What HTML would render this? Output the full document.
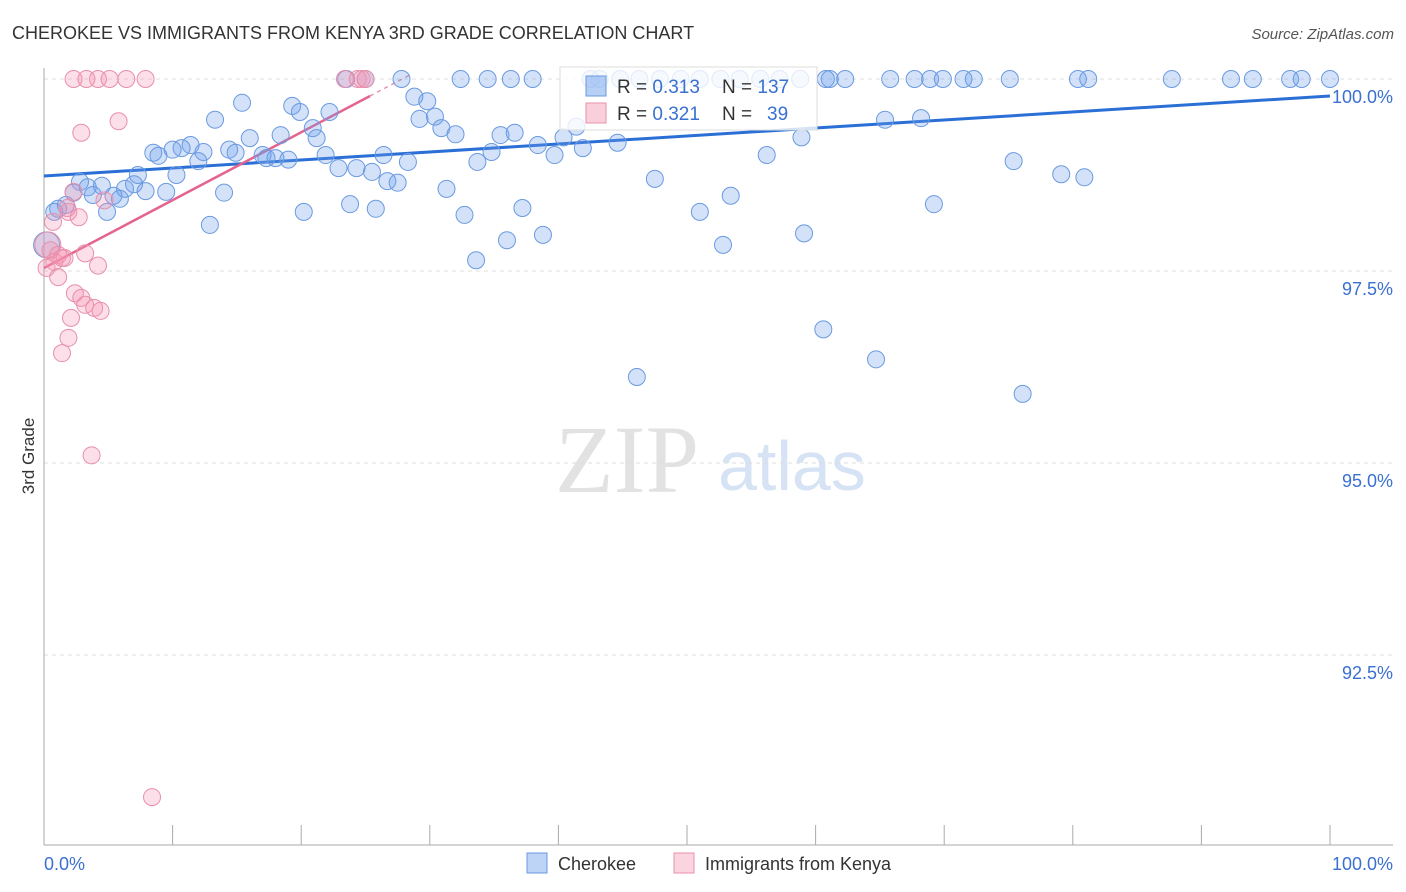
<!DOCTYPE html>
<html><head><meta charset="utf-8"><style>
body{margin:0;background:#fff;font-family:"Liberation Sans",sans-serif}
svg{display:block}
</style></head><body>
<svg id="chart" width="1406" height="892" xmlns="http://www.w3.org/2000/svg">
<text x="12" y="39" font-size="18" fill="#333">CHEROKEE VS IMMIGRANTS FROM KENYA 3RD GRADE CORRELATION CHART</text>
<text x="1394" y="39" font-size="15" fill="#555" font-style="italic" text-anchor="end">Source: ZipAtlas.com</text>
<text x="34" y="456" font-size="17" fill="#333" transform="rotate(-90 34 456)" text-anchor="middle">3rd Grade</text>
<g>
<text x="555" y="492" font-family="Liberation Serif,serif" font-size="96" fill="#e2e2e2">ZIP</text>
<text x="718" y="490" font-size="70" fill="#d6e3f5">atlas</text>
</g>
<g id="grid"></g>
<g id="axes"></g>
<g id="trend"></g>
<g id="pts"></g>
<g>
<rect x="560" y="67" width="257" height="63" fill="rgba(255,255,255,0.8)" stroke="#ddd"/>
<rect x="586" y="76" width="20" height="20" fill="rgba(110,160,235,0.5)" stroke="#6a9ae0"/>
<rect x="586" y="103" width="20" height="20" fill="rgba(245,160,185,0.5)" stroke="#e890ab"/>
<text x="617" y="93" font-size="19" fill="#333">R = <tspan fill="#3a70d0">0.313</tspan><tspan x="722">N = </tspan><tspan fill="#3a70d0">137</tspan></text>
<text x="617" y="120" font-size="19" fill="#333">R = <tspan fill="#3a70d0">0.321</tspan><tspan x="722">N = </tspan><tspan x="767" fill="#3a70d0">39</tspan></text>
</g>
<g>
<rect x="527" y="853" width="20" height="20" fill="rgba(110,160,235,0.45)" stroke="#6a9ae0"/>
<text x="558" y="870" font-size="18" fill="#333">Cherokee</text>
<rect x="674" y="853" width="20" height="20" fill="rgba(245,160,185,0.45)" stroke="#e890ab"/>
<text x="705" y="870" font-size="18" fill="#333">Immigrants from Kenya</text>
</g>
</svg>
<script>
const yTicks=[100,97.5,95,92.5];
const yTickLabels=["100.0%","97.5%","95.0%","92.5%"];
const xTicks=[0,10,20,30,40,50,60,70,80,90,100];
const xTickLabels=["0.0%","100.0%"];
const blueX=[23.5,25.0,27.8,32.4,34.5,36.3,38.0,42.5,43.2,44.8,46.3,47.9,49.5,51.0,52.6,54.1,55.7,57.2,58.8,60.8,61.1,62.3,65.8,67.7,68.9,69.9,71.5,72.3,75.1,80.4,81.2,87.7,92.3,94.0,96.9,97.8,100,
15.4,19.3,19.9,22.2,28.8,29.8,29.2,30.4,30.9,32.0,13.3,20.9,21.2,18.4,16.0,11.4,10.7,10.0,8.5,8.9,12.4,12.0,14.4,14.9,17.0,17.3,18.0,19.0,21.9,22.9,24.3,25.5,26.4,28.3,26.7,27.5,31.3,32.7,33.6,33.7,34.8,35.5,36.6,36.0,37.2,38.8,38.4,39.7,40.4,41.4,41.9,44.6,47.5,51.0,52.8,53.4,56.2,58.9,59.1,60.6,64.7,65.4,68.2,69.2,75.4,76.1,79.1,80.9,46.1,7.3,10.3,7.0,6.3,7.9,9.5,14.0,4.5,3.4,3.8,2.3,2.8,5.4,4.9,5.9,1.7,1.1,0.8,20.2,23.8,25.8,12.9,0.2];
const blueY=[100,100,100,100,100,100,100,100,100,100,100,100,100,100,100,100,100,100,100,100,100,100,100,100,100,100,100,100,100,100,100,100,100,100,100,100,100,
99.69,99.65,99.57,99.57,99.77,99.71,99.48,99.51,99.36,99.28,99.47,99.36,99.23,99.27,99.23,99.14,99.10,99.08,99.04,99.00,99.05,98.93,99.08,99.04,99.01,98.97,98.97,98.95,99.01,98.84,98.84,98.79,99.01,98.92,98.67,98.65,98.57,98.23,97.64,98.92,99.05,99.27,99.30,97.90,98.32,97.97,99.14,99.01,99.24,99.38,99.10,99.17,98.70,98.27,97.84,98.48,99.01,99.24,97.99,96.74,96.35,99.47,99.49,98.37,98.93,95.90,98.76,98.72,96.12,98.75,98.75,98.63,98.57,98.54,98.53,98.52,98.61,98.59,98.49,98.52,98.66,98.48,98.27,98.44,98.36,98.31,98.27,98.27,98.37,98.31,98.10,97.84];
const pinkX=[2.3,3.3,4.2,5.1,6.4,7.9,23.4,24.4,24.7,25.0,2.9,5.8,0.7,1.9,2.7,2.3,4.7,0.3,0.5,1.1,0.8,1.6,0.2,3.2,4.2,1.1,2.4,2.9,3.2,3.9,4.4,2.1,1.9,1.4,3.7,8.4,1.8,1.4];
const pinkY=[100,100,100,100,100,100,100,100,100,100,99.30,99.45,98.14,98.27,98.20,98.53,98.42,97.84,97.77,97.71,97.62,97.67,97.54,97.73,97.57,97.42,97.21,97.15,97.06,97.02,96.98,96.89,96.63,96.43,95.10,90.65,98.32,97.67];
const blueTrend=[[0,98.737],[100,99.779]];
const pinkTrend=[[0,97.539],[25.35,99.779]];
const NS="http://www.w3.org/2000/svg";
const X=v=>44+v*12.86, Y=v=>79+(100-v)*76.8;
function mk(t,a,p){const e=document.createElementNS(NS,t);for(const k in a)e.setAttribute(k,a[k]);p.appendChild(e);return e;}
const grid=document.getElementById('grid'),axes=document.getElementById('axes');
yTicks.forEach((t,i)=>{
 const l=mk('line',{x1:44,x2:1393,y1:Y(t),y2:Y(t),stroke:'#ddd','stroke-dasharray':'4,4'},grid);
 
 
 const tx=mk('text',{x:1393,y:Y(t)+24,'font-size':18,fill:'#3a70d0','text-anchor':'end'},axes);
 tx.textContent=yTickLabels[i];
 
 
});
mk('line',{x1:44,x2:44,y1:68,y2:845,stroke:'#aaa'},axes);
mk('line',{x1:44,x2:1393,y1:845,y2:845,stroke:'#aaa'},axes);
xTicks.forEach(t=>{
 const l=mk('line',{x1:X(t),x2:X(t),y1:825,y2:845,stroke:'#aaa'},axes);
 
 
});
[[0,'start',44],[100,'end',1393]].forEach((d,i)=>{
 const tx=mk('text',{x:d[2],y:870,'font-size':18,fill:'#3a70d0','text-anchor':d[1]},axes);
 tx.textContent=xTickLabels[i];
 
 
});
const pts=document.getElementById('pts');
function dots(xs,ys,fill,stroke,name){xs.forEach((x,i)=>{
 const c=mk('circle',{cx:X(x),cy:Y(ys[i]),r:(x<0.5&&ys[i]>97.8&&ys[i]<97.9)?13:8.5,fill:fill,stroke:stroke,'stroke-width':1},pts);
 
 
});}
dots(blueX,blueY,'rgba(110,160,235,0.3)','#6a9ae0','cherokee-point');
dots(pinkX,pinkY,'rgba(245,150,180,0.3)','#e890ab','kenya-point');
const tr=document.getElementById('trend');
const bl=mk('line',{x1:X(blueTrend[0][0]),y1:Y(blueTrend[0][1]),x2:X(blueTrend[1][0]),y2:Y(blueTrend[1][1]),stroke:'#2a6fd6','stroke-width':3},tr);


const pl=mk('line',{x1:X(pinkTrend[0][0]),y1:Y(pinkTrend[0][1]),x2:X(pinkTrend[1][0]),y2:Y(pinkTrend[1][1]),stroke:'#e4648f','stroke-width':2.5},tr);


const sl=(pinkTrend[1][1]-pinkTrend[0][1])/(pinkTrend[1][0]-pinkTrend[0][0]);
const pd=mk('line',{x1:X(pinkTrend[1][0]),y1:Y(pinkTrend[1][1]),x2:X(28.5),y2:Y(pinkTrend[1][1]+sl*(28.5-pinkTrend[1][0])),stroke:'#e890ab','stroke-width':1.5,'stroke-dasharray':'4,4'},tr);


</script>
</body></html>
